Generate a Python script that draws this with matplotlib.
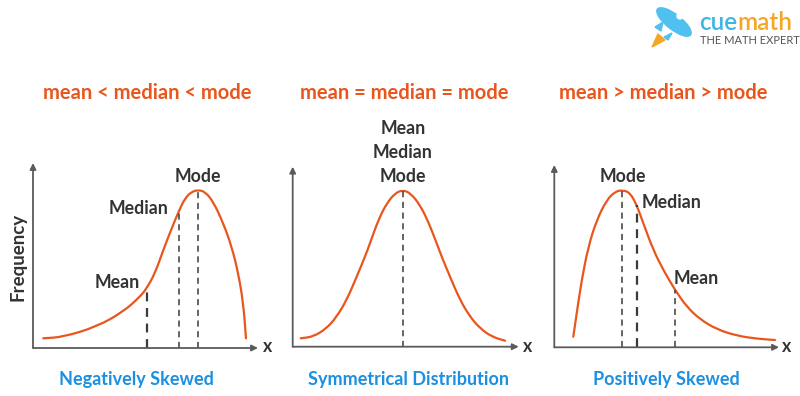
import matplotlib.pyplot as plt
from matplotlib.patches import Ellipse, Polygon, Circle, PathPatch
from matplotlib.path import Path

neg_x = [10.3, 30, 63.7, 90.3, 107, 113.7, 122, 130.3, 138.7, 146.3, 152, 158.7,
         165.3, 172, 180.3, 190.3, 198.7, 205.3, 210.3, 213]
neg_y = [9.7, 11, 21.3, 36.3, 51.3, 59.7, 74.7, 98, 119.7, 138, 149.7, 156.3,
         158, 156.3, 146.3, 124.7, 101.3, 74.7, 44.7, 9.7]
neg_marks_x = [113.7, 146.3, 165.3]     # mean, median, mode
neg_marks_y = [59.7, 138, 158]

sym_x = [8, 20.6, 34, 44, 54, 64, 72.3, 77.3, 85.6, 94, 102.3, 110, 118, 127.3,
         135.6, 144, 149, 157.3, 167.3, 177.3, 187.3, 199, 212.3]
sym_y = [8.4, 10, 18.4, 30, 46.7, 70, 90, 103.4, 126.7, 143.4, 153.4, 156.7, 153.4,
         141.7, 125, 103.4, 90, 70, 46.7, 30, 18.4, 10, 6]
sym_marks_x = [110]
sym_marks_y = [156.7]

pos_x = [19, 22.4, 27.4, 34, 42.4, 52.4, 60.7, 68, 75.7, 82.4, 89, 99, 109,
         120.7, 132.4, 145.7, 162.4, 182.4, 202.4, 220.7]
pos_y = [10.6, 34, 67.3, 100.6, 127.3, 147.3, 155.6, 157.3, 154.6, 142.3, 124, 97.3,
         77.3, 57.3, 40.6, 28, 18, 11.6, 8.6, 7.3]
pos_marks_x = [68, 82.4, 120.7]         # mode, median, mean
pos_marks_y = [157.3, 142.3, 57.3]

titles = ['mean < median < mode', 'mean = median = mode', 'mean > median > mode']
subtitles = ['Negatively Skewed', 'Symmetrical Distribution', 'Positively Skewed']

ORANGE = '#e9561d'
BLUE = '#1b8fe2'
DARK = '#333333'
AXC = '#5a5a5a'

plt.rcParams['font.family'] = ['Lato', 'DejaVu Sans']

fig = plt.figure(figsize=(8, 3.96), dpi=100)
bg = fig.add_axes([0, 0, 1, 1])
bg.set_xlim(0, 800)
bg.set_ylim(396, 0)
bg.axis('off')


def smooth_path(xs, ys):
    # quadratic bezier through midpoints, the read points act as control points
    pts = list(zip(xs, ys))
    verts = [pts[0]]
    codes = [Path.MOVETO]
    mid = lambda p, q: ((p[0]+q[0])/2, (p[1]+q[1])/2)
    verts.append(mid(pts[0], pts[1]))
    codes.append(Path.LINETO)
    for i in range(1, len(pts)-1):
        verts += [pts[i], mid(pts[i], pts[i+1])]
        codes += [Path.CURVE3, Path.CURVE3]
    verts.append(pts[-1])
    codes.append(Path.LINETO)
    return Path(verts, codes)


def panel(x0, y0, w, h, xs, ys, mx, my, bold):
    ax = fig.add_axes([x0/800, (396-y0)/396, w/800, h/396])
    ax.set_xlim(0, w)
    ax.set_ylim(0, h)
    ax.axis('off')
    arr = dict(arrowstyle='-|>', color=AXC, lw=1.3, mutation_scale=9, shrinkA=0, shrinkB=0)
    ax.annotate('', xy=(w, 0), xytext=(0, 0), arrowprops=arr, annotation_clip=False)
    ax.annotate('', xy=(0, h), xytext=(0, 0), arrowprops=arr, annotation_clip=False)
    for i, (a, b) in enumerate(zip(mx, my)):
        ax.plot([a, a], [0, b], color='#3a3a3a', lw=1.6 if i in bold else 1.1,
                ls=(0, (4, 3)), clip_on=False)
    ax.add_patch(PathPatch(smooth_path(xs, ys), fill=False, edgecolor=ORANGE, lw=1.6,
                           clip_on=False, capstyle='round'))
    return ax


panel(33, 348, 225, 185, neg_x, neg_y, neg_marks_x, neg_marks_y, [0])
panel(292.7, 346.7, 226, 180, sym_x, sym_y, sym_marks_x, sym_marks_y, [])
panel(554.3, 347.3, 224.7, 182.3, pos_x, pos_y, pos_marks_x, pos_marks_y, [1])

for x, t in zip([147, 404, 663], titles):
    bg.text(x, 93, t, color=ORANGE, fontsize=14.5, fontweight='bold', ha='center', va='center')
for x, t in zip([136, 408, 666], subtitles):
    bg.text(x, 379, t, color=BLUE, fontsize=13, fontweight='bold', ha='center', va='center')

lab = dict(color=DARK, fontsize=12.8, fontweight='bold', va='center')
bg.text(198, 176, 'Mode', ha='center', **lab)
bg.text(139, 208, 'Median', ha='center', **lab)
bg.text(117, 282, 'Mean', ha='center', **lab)
bg.text(403, 128, 'Mean', ha='center', **lab)
bg.text(403, 153, 'Median', ha='center', **lab)
bg.text(403, 176, 'Mode', ha='center', **lab)
bg.text(623, 176, 'Mode', ha='center', **lab)
bg.text(642, 203, 'Median', ha='left', **lab)
bg.text(674, 279, 'Mean', ha='left', **lab)
for x in [268, 528, 787]:
    bg.text(x, 347, 'x', ha='center', **lab)
bg.text(18, 257, 'Frequency', rotation=90, ha='center', color=DARK, fontsize=13.5,
        fontweight='bold', va='center')

# logo
bg.add_patch(Polygon([[652, 47], [658, 34], [665, 40]], closed=True, color='#f5a623'))
bg.add_patch(Polygon([[655, 27], [663, 22], [661, 31]], closed=True, color='#4fc0ef'))
bg.add_patch(Polygon([[668, 40], [672, 33], [664, 37]], closed=True, color='#4fc0ef'))
bg.add_patch(Ellipse((674, 22), 42, 15, angle=38, color='#4fc0ef'))
bg.add_patch(Circle((680, 16), 3, color='white'))
cue = bg.text(699, 22, 'cue', color='#3db5e6', fontsize=17.5, fontweight='semibold',
              ha='left', va='center')
bg.annotate('math', xy=(1, 0.5), xycoords=cue, va='center', ha='left',
            color='#f5a623', fontsize=17.5, fontweight='semibold')
bg.text(700, 40, 'THE MATH EXPERT', color='#555555', fontsize=8, ha='left', va='center')

fig.savefig('out.png', dpi=100, facecolor='white')
